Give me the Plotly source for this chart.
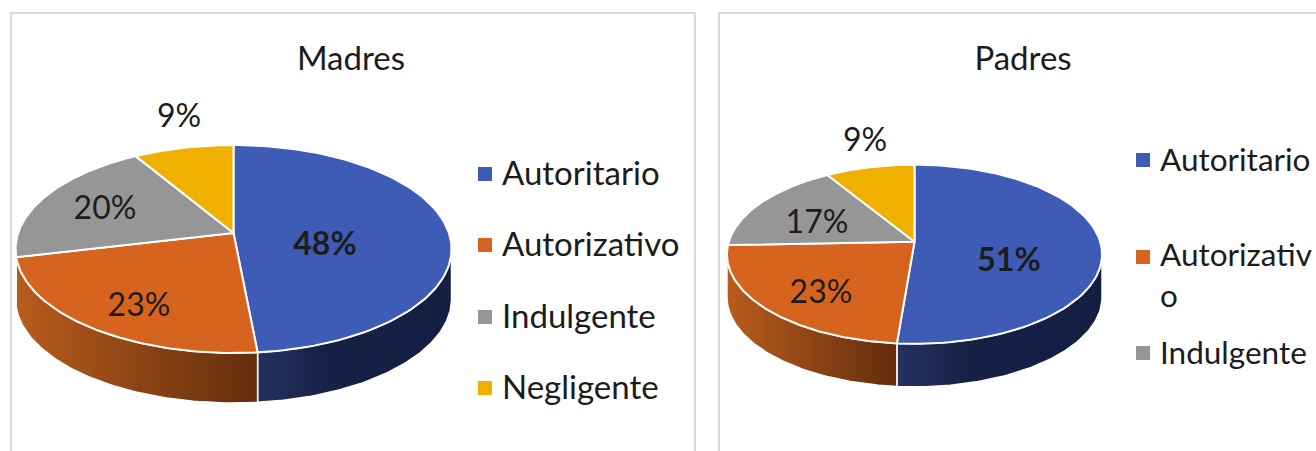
import numpy as np
import plotly.graph_objects as go

# ---- data ----
categories = ["Autoritario", "Autorizativo", "Indulgente", "Negligente"]
madres = [48.49, 22.81, 20.1, 8.6]
padres = [51.3, 23.1, 16.8, 8.8]
titles = ["Madres", "Padres"]
legend_madres = ["Autoritario", "Autorizativo", "Indulgente", "Negligente"]
legend_padres = ["Autoritario", "Autorizativ<br>o", "Indulgente"]

# ---- style ----
FONT = "Lato"
TEXT = "#1c1c1c"
face = ["#3e5cb6", "#d6641e", "#969696", "#f0b000"]
side = [
    [[0, "#24325f"], [0.35, "#172146"], [1, "#141e42"]],
    [[0, "#b85c1c"], [1, "#632d0d"]],
    [[0, "#b85c1c"], [1, "#b85c1c"]],
    [[0, "#a87b00"], [1, "#8a6500"]],
]

# pie projection: vertex (cx, cy), half-width A, vertical scale B, perspective k, depth
pie_l = dict(cx=233.5, cy=233.0, A=215.4, B=101.5, k=0.154, depth=50, title_x=351)
pie_r = dict(cx=914.5, cy=241.7, A=185.7, B=87.8, k=0.140, depth=43, title_x=1023)
TITLE_Y = 62

fig = go.Figure()


def proj(p, theta):
    X, Y = np.sin(theta), np.cos(theta)
    den = 1 + p["k"] * Y
    return p["cx"] + p["A"] * X / den, p["cy"] - p["B"] * Y / den


def poly(x, y, fill=None, gradient=None, lw=2.0):
    t = go.Scatter(x=list(x), y=list(y), mode="lines", fill="toself",
                   line=dict(color="white", width=lw), hoverinfo="skip", showlegend=False)
    if gradient is not None:
        t.fillgradient = gradient
    else:
        t.fillcolor = fill
    fig.add_trace(t)


def pie(values, p):
    edges = np.radians(np.concatenate([[0], np.cumsum(values)]) * 3.6)
    lim = np.arccos(-p["k"])
    # rim walls, visible only between the two horizontal extremes
    for i in range(len(values)):
        a, b = max(edges[i], lim), min(edges[i + 1], 2 * np.pi - lim)
        if b <= a:
            continue
        th = np.linspace(a, b, 80)
        x, y = proj(p, th)
        xs = np.concatenate([x, x[::-1], x[:1]])
        ys = np.concatenate([y, y[::-1] + p["depth"], y[:1]])
        poly(xs, ys, gradient=dict(type="horizontal", colorscale=side[i]), lw=1.5)
    # top face
    for i in range(len(values)):
        th = np.linspace(edges[i], edges[i + 1], 120)
        x, y = proj(p, th)
        poly(np.concatenate([[p["cx"]], x, [p["cx"]]]),
             np.concatenate([[p["cy"]], y, [p["cy"]]]), fill=face[i])


def text(x, y, s, size=33, bold=False, anchor="middle center"):
    fig.add_trace(go.Scatter(
        x=[x], y=[y], mode="text", text=[f"<b>{s}</b>" if bold else s],
        textposition=anchor, textfont=dict(family=FONT, size=size, color=TEXT),
        hoverinfo="skip", showlegend=False))


def marker(x, y, color):
    fig.add_trace(go.Scatter(x=[x], y=[y], mode="markers",
                  marker=dict(symbol="square", size=14, color=color),
                  hoverinfo="skip", showlegend=False))


pie(madres, pie_l)
pie(padres, pie_r)

text(pie_l["title_x"], TITLE_Y, titles[0])
text(pie_r["title_x"], TITLE_Y, titles[1])

label_pos_l = [(325, 247), (139, 308), (105, 211), (179, 119)]
label_pos_r = [(1009, 263), (821, 295), (817, 225), (865, 143)]
for v, (x, y), b in zip(madres, label_pos_l, [True, False, False, False]):
    text(x, y, f"{v:.0f}%", size=32, bold=b)
for v, (x, y), b in zip(padres, label_pos_r, [True, False, False, False]):
    text(x, y, f"{v:.0f}%", size=32, bold=b)

for i, (lab, ym, yt) in enumerate(zip(legend_madres, [174, 245, 317, 388], [177, 248, 320, 391])):
    marker(485, ym, face[i])
    text(502, yt, lab, anchor="middle right")
for i, (lab, ym, yt) in enumerate(zip(legend_padres, [160, 257, 353], [163, 279, 356])):
    marker(1143, ym, face[i])
    text(1160, yt, lab, size=31.5, anchor="middle right")

frame = "#d9d9d9"
for x0, x1 in [(11, 695), (719, 1330)]:
    fig.add_shape(type="path", path=f"M{x0},470 L{x0},13 L{x1},13 L{x1},470",
                  line=dict(color=frame, width=2), layer="below")

fig.update_xaxes(visible=False, range=[0, 1316], fixedrange=True)
fig.update_yaxes(visible=False, range=[451, 0], fixedrange=True)
fig.update_layout(width=1316, height=451, margin=dict(l=0, r=0, t=0, b=0),
                  paper_bgcolor="white", plot_bgcolor="white", showlegend=False)

fig.write_html("out.html", config=dict(displayModeBar=False),
               post_script="document.body.style.margin='0';document.body.style.overflow='hidden';")
